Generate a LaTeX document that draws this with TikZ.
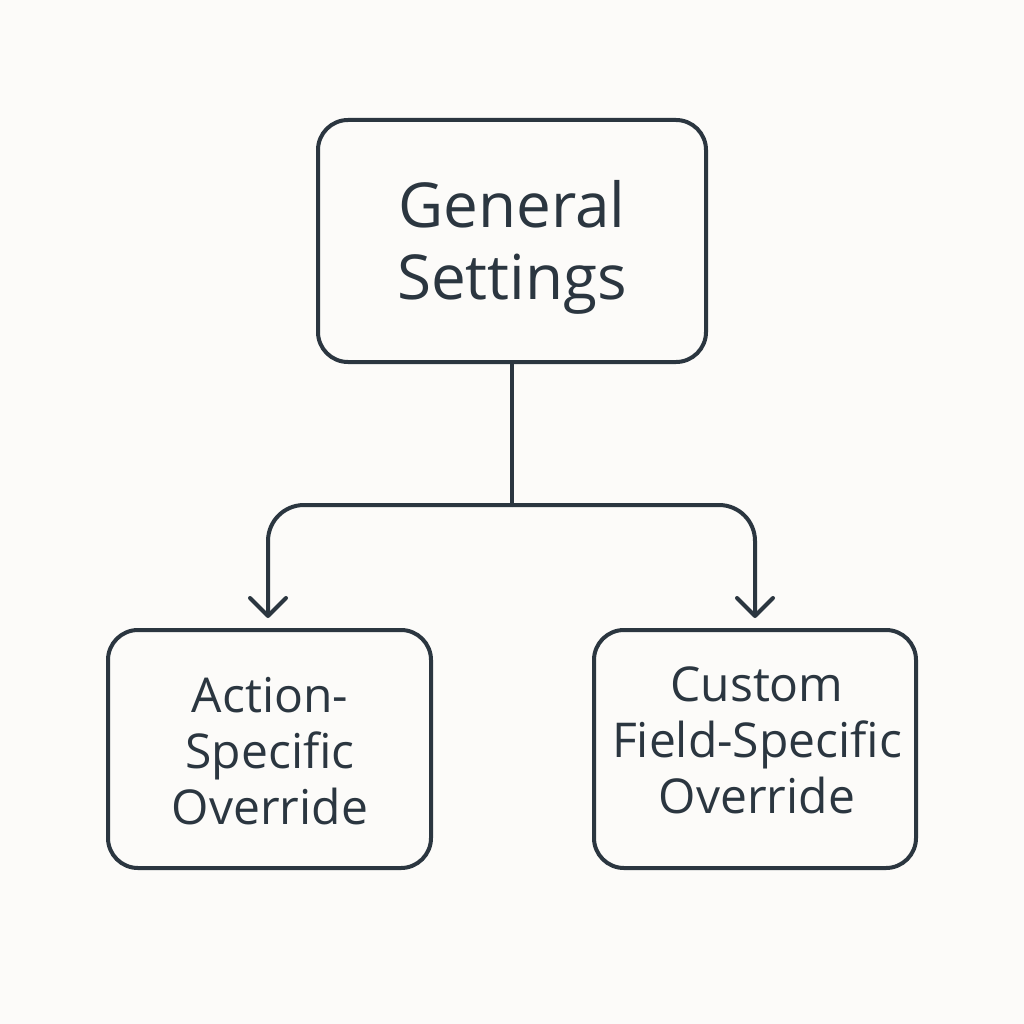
\documentclass[tikz,border=0pt]{standalone}
\usepackage{fontspec}
\setmainfont{Open Sans}
\usetikzlibrary{arrows.meta}
\definecolor{ink}{HTML}{2B3640}
\definecolor{bg}{HTML}{FCFBF9}
\begin{document}
\begin{tikzpicture}[x=1pt,y=-1pt,
  box/.style={draw=ink, line width=4pt, rounded corners=30pt, inner sep=0pt},
  lbl/.style={align=center, text=ink, inner sep=0pt},
  conn/.style={draw=ink, line width=4pt, rounded corners=36pt},
  tip/.style={-{Straight Barb[length=18pt,width=36pt,line width=4pt,line cap=round,line join=round]}, shorten >=10pt}]
\fill[bg] (0,0) rectangle (1024,1024);
\useasboundingbox (0,0) rectangle (1024,1024);
\node[box, minimum width=388pt, minimum height=242pt] (top) at (512,241) {};
\node[box, minimum width=323pt, minimum height=238pt] (left) at (269.5,749) {};
\node[box, minimum width=322pt, minimum height=238pt] (right) at (755,749) {};
\node[lbl, font=\fontsize{62}{72}\selectfont] (toptext) at (512,247) {General\\Settings};
\node[lbl, font=\fontsize{48}{56}\selectfont] (lefttext) at (270,751) {Action-\\Specific\\Override};
\node[lbl, font=\fontsize{48}{56}\selectfont] (righttext) at (757,740) {Custom\\Field-Specific\\Override};
\coordinate (j) at (512,505);
\draw[conn] (top.south) -- (j);
\draw[conn, tip] (j) -| ([xshift=-1.5pt]left.north);
\draw[conn, tip] (j) -| (right.north);
\end{tikzpicture}
\end{document}
